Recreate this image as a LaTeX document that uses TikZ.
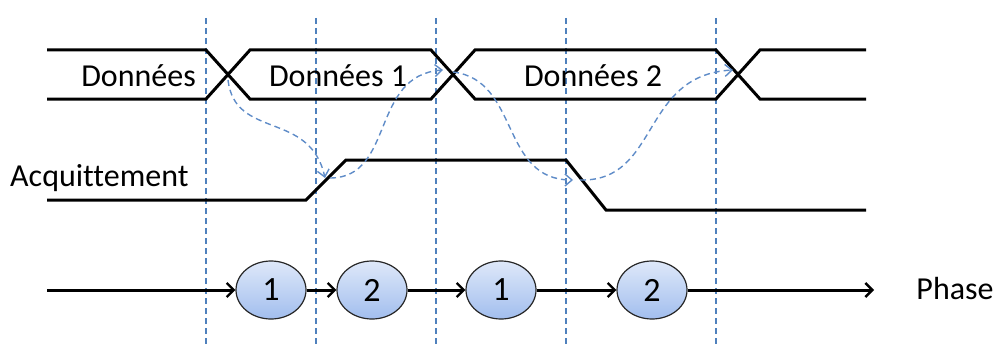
\documentclass[tikz,border=0pt]{standalone}
\usepackage{fontspec}
\setmainfont{Carlito}[Ligatures=NoCommon]
\usetikzlibrary{arrows.meta,shapes.geometric}
\definecolor{guide}{HTML}{4F81BD}
\definecolor{flow}{HTML}{5F8CC8}
\definecolor{ftop}{HTML}{DEE8F9}
\definecolor{fbot}{HTML}{A2BEEE}
\tikzset{
  wave/.style={line width=3pt, line join=miter},
  guideline/.style={guide, line width=1.3pt, dash pattern=on 6pt off 4pt},
  flowarrow/.style={flow, line width=1.4pt, dash pattern=on 6pt off 4pt, -{Straight Barb[length=7pt,width=12pt,line width=1.4pt]}},
  phasearrow/.style={line width=3pt, -{Straight Barb[length=7pt,width=14pt,line width=2.4pt]}},
  phasenode/.style={ellipse, draw=black!85, line width=1.2pt, minimum width=70pt, minimum height=58pt, inner sep=0pt, top color=ftop, bottom color=fbot, font=\fontsize{34}{38}\selectfont},
  lbl/.style={font=\fontsize{32}{38}\selectfont, inner sep=0pt}
}
\begin{document}
\begin{tikzpicture}[x=1pt,y=-1pt]
\useasboundingbox (0,0) rectangle (1000,345);
% guide lines
\foreach \gx in {206,316,436,566,716}{
  \draw[guideline] (\gx,18) -- (\gx,345);
}
% data bus
\draw[wave] (47,50) -- (206,50) -- (250,99) -- (431,99) -- (475,50) -- (716,50) -- (760,99) -- (866,99);
\draw[wave] (47,99) -- (206,99) -- (250,50) -- (431,50) -- (475,99) -- (716,99) -- (760,50) -- (866,50);
\node[lbl, anchor=east] (d0) at (196,76) {Données};
\node[lbl] (d1) at (338,76) {Données 1};
\node[lbl] (d2) at (593,76) {Données 2};
% acknowledge
\draw[wave] (47,200) -- (306,200) -- (346,160) -- (566,160) -- (606,210) -- (866,210);
\node[lbl, anchor=west] (ack) at (10,178) {Acquittement};
% key points
\coordinate (x1) at (228,80);
\coordinate (x2) at (443,70);
\coordinate (x2s) at (453,72);
\coordinate (x3) at (733,70);
\coordinate (r1) at (325,178);
\coordinate (r1s) at (330,178);
\coordinate (f1) at (573,180);
\coordinate (f1s) at (580,180);
% causal arrows
\draw[flowarrow] (x1) .. controls (235,140) and (310,110) .. (r1);
\draw[flowarrow] (r1s) .. controls (395,178) and (370,75) .. (x2);
\draw[flowarrow] (x2s) .. controls (520,80) and (500,180) .. (f1);
\draw[flowarrow] (f1s) .. controls (660,182) and (640,75) .. (x3);
% phases
\coordinate (pstart) at (47,290);
\coordinate (pend) at (874,290);
\node[phasenode] (p1) at (271,290) {1};
\node[phasenode] (p2) at (372,290) {2};
\node[phasenode] (p3) at (501,290) {1};
\node[phasenode] (p4) at (652,290) {2};
\draw[phasearrow] (pstart) -- (p1);
\draw[phasearrow] (p1) -- (p2);
\draw[phasearrow] (p2) -- (p3);
\draw[phasearrow] (p3) -- (p4);
\draw[phasearrow] (p4) -- (pend);
\node[lbl] (ph) at (955,289) {Phase};
\end{tikzpicture}
\end{document}
